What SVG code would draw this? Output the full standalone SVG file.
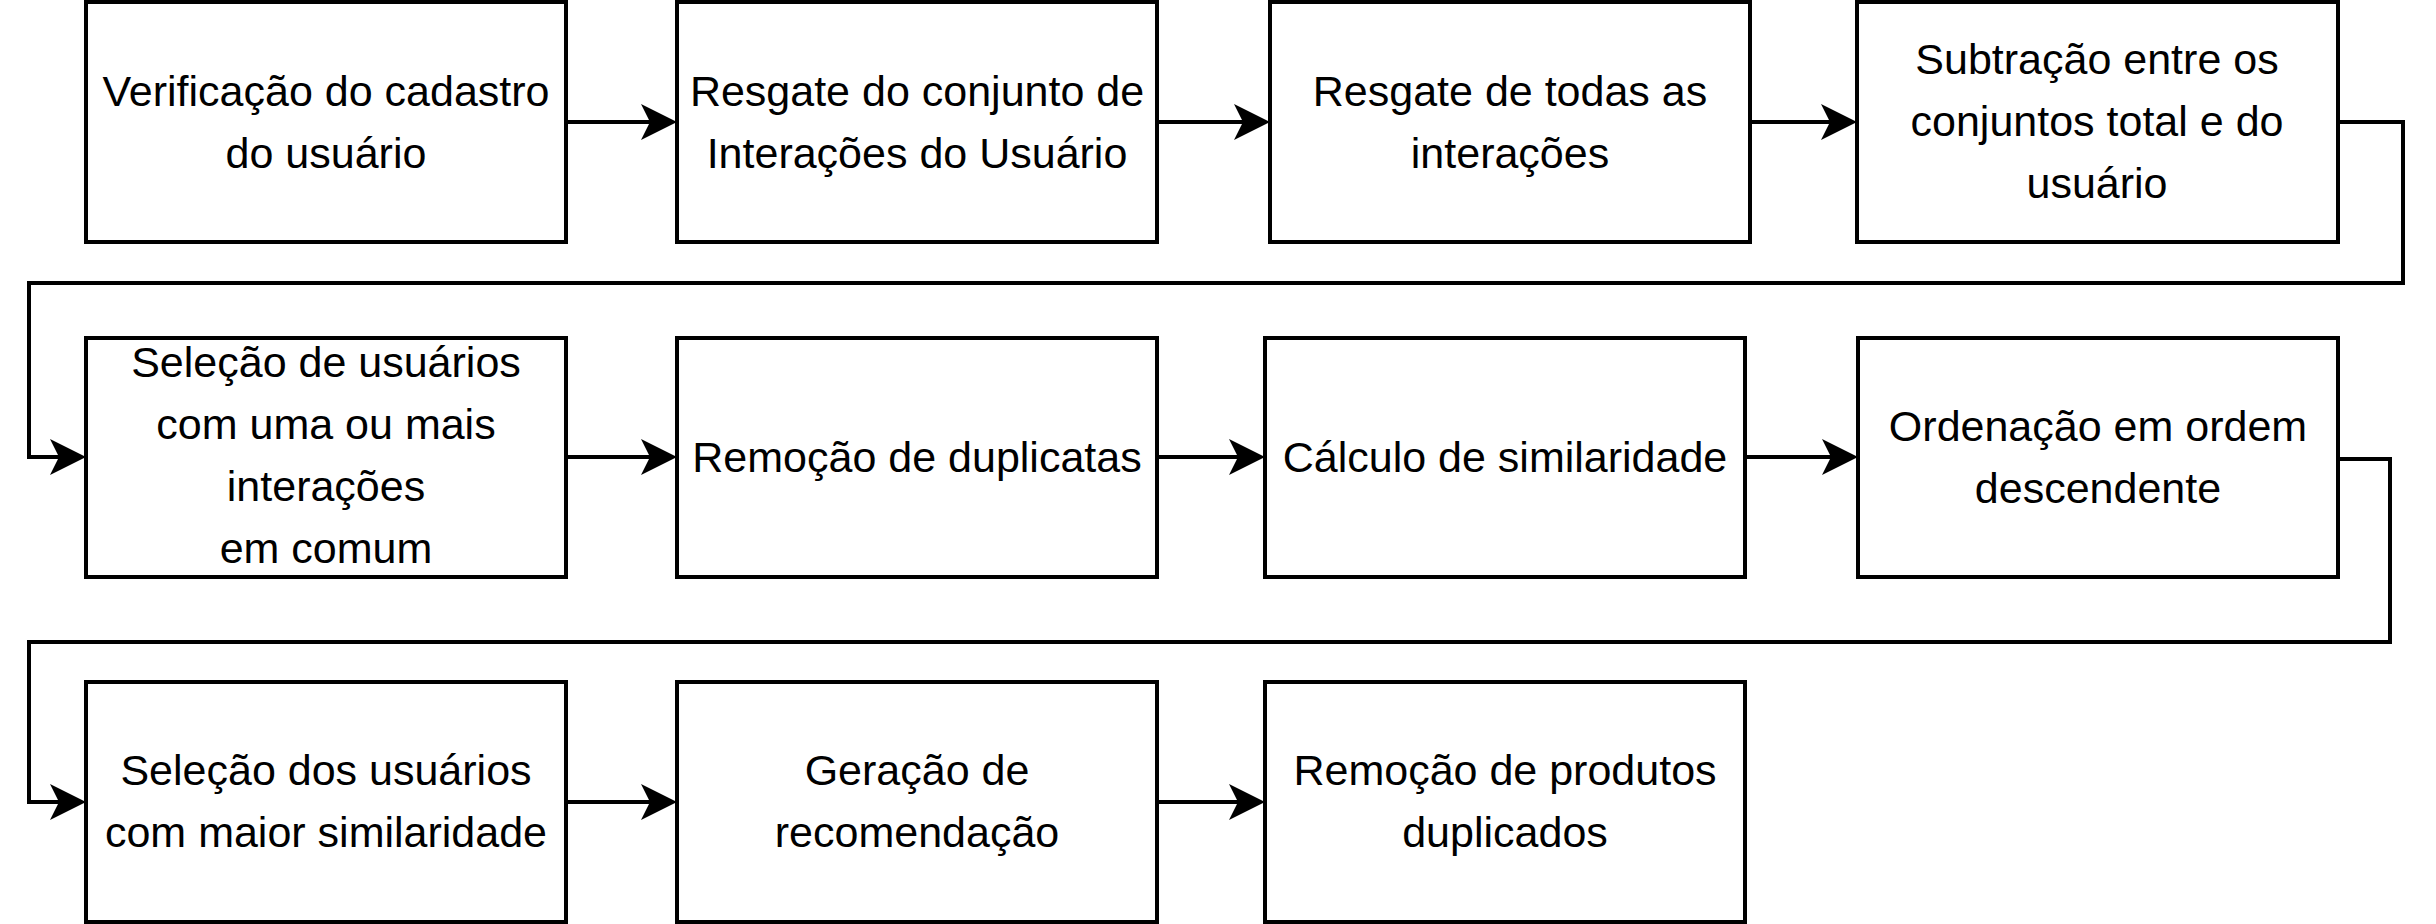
<svg xmlns="http://www.w3.org/2000/svg" width="2436" height="924" viewBox="0 0 2436 924">
<style>
.box{fill:#fff;stroke:#000;stroke-width:4}
.lbl{font-family:"Liberation Sans",Arial,sans-serif;font-size:43px;fill:#000;text-anchor:middle}
.edge{fill:none;stroke:#000;stroke-width:4;stroke-linejoin:miter}
</style>
<defs>
<marker id="arr" markerUnits="userSpaceOnUse" markerWidth="36" markerHeight="36" viewBox="0 0 36 36" refX="26" refY="18" orient="auto">
<path d="M0,0 L36,18 L0,36 L9,18 Z" fill="#000"/>
</marker>
</defs>
<rect width="2436" height="924" fill="#fff"/>
<g id="connectors">
<path class="edge" marker-end="url(#arr)" d="M566,122 H667"/>
<path class="edge" marker-end="url(#arr)" d="M1157,122 H1260"/>
<path class="edge" marker-end="url(#arr)" d="M1749,122 H1847"/>
<path class="edge" marker-end="url(#arr)" d="M2338,122 H2403 V283 H29 V457 H76"/>
<path class="edge" marker-end="url(#arr)" d="M566,457 H667"/>
<path class="edge" marker-end="url(#arr)" d="M1157,457 H1255"/>
<path class="edge" marker-end="url(#arr)" d="M1745,457 H1848"/>
<path class="edge" marker-end="url(#arr)" d="M2338,459 H2390 V642 H29 V802 H76"/>
<path class="edge" marker-end="url(#arr)" d="M566,802 H667"/>
<path class="edge" marker-end="url(#arr)" d="M1157,802 H1255"/>
</g>
<g id="n1"><rect class="box" x="86" y="2" width="480" height="240"/>
<text class="lbl" x="326" y="106">Verificação do cadastro</text><text class="lbl" x="326" y="168">do usuário</text></g>
<g id="n2"><rect class="box" x="677" y="2" width="480" height="240"/>
<text class="lbl" x="917" y="106">Resgate do conjunto de</text><text class="lbl" x="917" y="168">Interações do Usuário</text></g>
<g id="n3"><rect class="box" x="1270" y="2" width="480" height="240"/>
<text class="lbl" x="1510" y="106">Resgate de todas as</text><text class="lbl" x="1510" y="168">interações</text></g>
<g id="n4"><rect class="box" x="1857" y="2" width="481" height="240"/>
<text class="lbl" x="2097" y="74">Subtração entre os</text><text class="lbl" x="2097" y="136">conjuntos total e do</text><text class="lbl" x="2097" y="198">usuário</text></g>
<g id="n5"><rect class="box" x="86" y="338" width="480" height="239"/>
<text class="lbl" x="326" y="377">Seleção de usuários</text><text class="lbl" x="326" y="439">com uma ou mais</text><text class="lbl" x="326" y="501">interações</text><text class="lbl" x="326" y="563">em comum</text></g>
<g id="n6"><rect class="box" x="677" y="338" width="480" height="239"/>
<text class="lbl" x="917" y="472">Remoção de duplicatas</text></g>
<g id="n7"><rect class="box" x="1265" y="338" width="480" height="239"/>
<text class="lbl" x="1505" y="472">Cálculo de similaridade</text></g>
<g id="n8"><rect class="box" x="1858" y="338" width="480" height="239"/>
<text class="lbl" x="2098" y="441">Ordenação em ordem</text><text class="lbl" x="2098" y="503">descendente</text></g>
<g id="n9"><rect class="box" x="86" y="682" width="480" height="240"/>
<text class="lbl" x="326" y="785">Seleção dos usuários</text><text class="lbl" x="326" y="847">com maior similaridade</text></g>
<g id="n10"><rect class="box" x="677" y="682" width="480" height="240"/>
<text class="lbl" x="917" y="785">Geração de</text><text class="lbl" x="917" y="847">recomendação</text></g>
<g id="n11"><rect class="box" x="1265" y="682" width="480" height="240"/>
<text class="lbl" x="1505" y="785">Remoção de produtos</text><text class="lbl" x="1505" y="847">duplicados</text></g>
</svg>
